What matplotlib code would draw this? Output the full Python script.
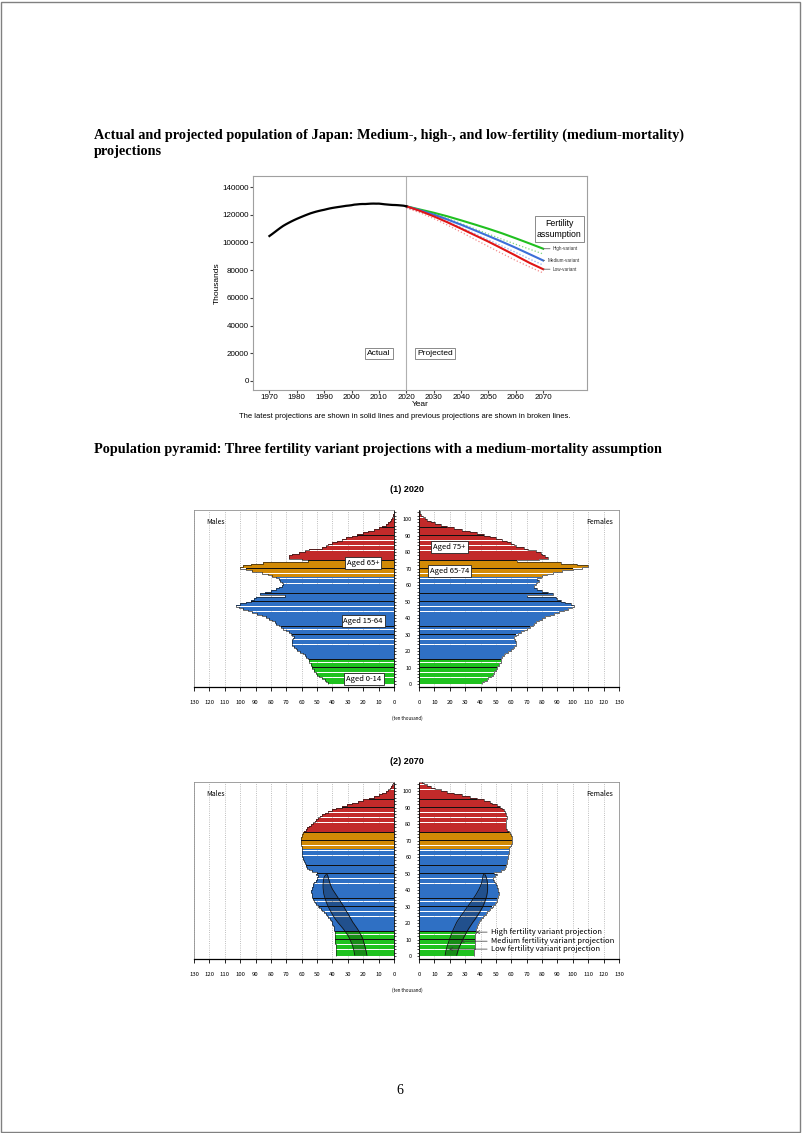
import numpy as np
import matplotlib
matplotlib.use("Agg")
import matplotlib.pyplot as plt
from matplotlib.patches import Rectangle

W, H = 802, 1133

# ---- line chart data (thousands) ----
actual_years = list(range(1970, 2021))
actual_pop = [104665, 106100, 107595, 109104, 110573, 111940, 113094, 114165, 115190, 116155,
              117060, 117902, 118728, 119536, 120305, 121049, 121660, 122239, 122745, 123205,
              123611, 124101, 124567, 124938, 125265, 125570, 125859, 126157, 126472, 126667,
              126926, 127316, 127486, 127694, 127787, 127768, 127901, 128033, 128084, 128032,
              128057, 127834, 127593, 127414, 127237, 127095, 127042, 126919, 126749, 126555,
              126146]
proj_years = [2020, 2025, 2030, 2035, 2040, 2045, 2050, 2055, 2060, 2065, 2070]
high_var = [126146, 123800, 121500, 118900, 116000, 113000, 109900, 106600, 103000, 99300, 95500]
medium_var = [126146, 123262, 120116, 116639, 112837, 108801, 104686, 100508, 96148, 91587, 86996]
low_var = [126146, 122800, 118900, 114600, 110000, 105300, 100600, 95600, 90500, 85300, 80700]
prev_high = [125900, 123400, 120600, 117300, 113700, 109900, 106100, 102300, 98700, 95200, 91700]
prev_medium = [125300, 122500, 119100, 115200, 110900, 106400, 101900, 97400, 92800, 88100, 83700]
prev_low = [124900, 121500, 117300, 112600, 107500, 102300, 97100, 92000, 87000, 82400, 78000]

# ---- pyramid data (ten thousand), ages 0..105 ----
ages = np.arange(106)
male_2020 = ([43, 44, 45, 47, 49, 50, 51, 52, 52, 53, 53, 54, 54, 55, 55.5] +
             [56, 57, 58, 59, 61, 63, 64, 65, 66, 66] +
             [66, 66, 65.5, 65, 66, 67, 68.5, 70, 72, 73.5] +
             [75, 76.5, 77.5, 79, 81, 83, 86, 89, 92, 95] +
             [98, 101, 103, 100, 96, 93, 91, 89.5, 71, 87] +
             [84, 80, 77, 75, 73, 72, 73, 74, 75, 77] +
             [79, 82, 86, 92, 96, 100, 98, 93, 85, 56] +
             [60, 68, 68, 66, 62, 58, 55, 47, 44, 43, 40, 37, 34, 31, 27, 24, 20, 17, 13, 10,
              7.5, 5.5, 3.8, 2.6, 1.7, 1.0, 0.6, 0.35, 0.2, 0.1, 0.05])
female_2020 = ([41, 42, 44, 45, 47, 48, 49, 49, 50, 51, 51, 52, 52, 53, 53] +
               [53, 54, 55, 56, 58, 60, 61, 62, 63, 63] +
               [63, 62.5, 62, 62, 63, 64.5, 66.5, 68, 70, 72] +
               [74, 75, 76, 78, 80, 82, 85, 88, 91, 94] +
               [97, 99.5, 101, 99, 95, 92, 90, 89, 70, 87] +
               [84, 80, 77, 75, 75, 76, 77, 78, 77, 79] +
               [80, 83, 87, 93, 100, 106, 110, 103, 92, 64] +
               [78, 84, 82, 80, 79, 76, 71, 68, 63, 62, 60, 57, 54, 50, 46, 42, 38, 33, 28, 23,
                18, 14, 10.5, 7.5, 5.2, 3.6, 2.4, 1.5, 0.9, 0.5, 0.3])
male_2070 = ([37.5, 37.6, 37.7, 37.8, 37.9, 38.0, 38.0, 38.1, 38.1, 38.2, 38.2, 38.3, 38.4, 38.5, 38.6] +
             [38.8, 39.0, 39.3, 39.6, 40.0, 40.5, 41.1, 41.8, 42.6, 43.5] +
             [44.5, 45.5, 46.5, 47.5, 48.5, 49.5, 50.4, 51.2, 51.9, 52.5] +
             [53.0, 53.4, 53.6, 53.7, 53.7, 53.6, 53.3, 52.9, 52.4, 51.8] +
             [51.0, 50.3, 49.8, 49.5, 51.0, 50.0, 53.5, 55.5, 56.5, 57.0] +
             [57.5, 58.0, 58.5, 59.0, 59.3, 59.5, 59.7, 59.8, 59.8, 59.7] +
             [59.8, 60.0, 60.2, 60.4, 60.5, 60.5, 60.3, 60.0, 59.6, 59.0] +
             [58.2, 57.3, 56.3, 55.2, 54.0, 52.8, 51.6, 50.4, 49.2, 48.0, 46.6, 45.0, 43.0, 40.5,
              37.5, 34.0, 30.5, 27.0, 23.5, 20.0, 16.5, 13.0, 10.0, 7.5, 5.5, 4.0, 2.8, 1.8, 1.1,
              0.6, 0.3])
female_2070 = ([35.7, 35.8, 35.9, 36.0, 36.1, 36.2, 36.2, 36.3, 36.3, 36.4, 36.4, 36.5, 36.6, 36.7, 36.8] +
               [37.0, 37.3, 37.6, 38.0, 38.5, 39.0, 39.7, 40.5, 41.4, 42.4] +
               [43.4, 44.4, 45.4, 46.4, 47.4, 48.3, 49.1, 49.8, 50.4, 50.9] +
               [51.3, 51.6, 51.7, 51.7, 51.6, 51.4, 51.0, 50.5, 49.9, 49.3] +
               [48.7, 48.3, 48.1, 49.5, 50.5, 49.0, 53.5, 55.0, 55.8, 56.3] +
               [56.7, 57.0, 57.3, 57.5, 57.7, 57.9, 58.1, 58.3, 58.4, 58.5] +
               [58.8, 59.3, 59.8, 60.2, 60.5, 60.6, 60.5, 60.2, 59.7, 59.0] +
               [58.2, 57.4, 56.8, 56.4, 56.3, 56.4, 56.6, 56.8, 57.0, 57.0, 56.8, 56.4, 55.8, 55.0,
                54.0, 52.5, 50.5, 47.5, 46.0, 42.0, 37.5, 33.0, 28.0, 23.0, 18.0, 14.0, 10.5, 8.0,
                5.5, 3.5, 1.8])
# medium / low fertility outlines for ages 0..49 in 2070
band_ages = np.arange(50)
male_2070_med = [25.5, 25.7, 25.9, 26.1, 26.4, 26.7, 27.0, 27.4, 27.9, 28.4,
                 28.8, 29.4, 30.0, 30.7, 31.4, 32.2, 33.0, 33.9, 34.8, 35.7,
                 36.6, 37.4, 38.2, 38.9, 39.6, 40.2, 40.8, 41.4, 42.0, 42.5,
                 43.0, 43.5, 43.9, 44.3, 44.7, 45.0, 45.3, 45.6, 45.8, 45.9,
                 46.0, 46.1, 46.1, 46.1, 46.0, 45.9, 45.7, 45.5, 45.0, 44.0]
male_2070_low = [17.6, 17.8, 18.0, 18.3, 18.5, 18.8, 19.1, 19.4, 19.7, 20.0,
                 20.3, 20.8, 21.3, 21.9, 22.5, 23.1, 23.8, 24.5, 25.3, 26.0,
                 26.8, 27.4, 28.0, 28.6, 29.2, 29.8, 30.5, 31.2, 31.8, 32.4,
                 33.0, 33.7, 34.4, 35.1, 35.8, 36.5, 37.2, 37.9, 38.6, 39.3,
                 40.0, 40.5, 41.0, 41.4, 41.8, 42.1, 42.4, 42.7, 43.0, 43.5]
female_2070_med = [24.5, 24.8, 25.1, 25.4, 25.8, 26.2, 26.7, 27.2, 27.7, 28.2,
                   28.7, 29.2, 29.8, 30.4, 31.0, 31.6, 32.2, 32.9, 33.6, 34.3,
                   35.0, 35.8, 36.6, 37.3, 38.0, 38.7, 39.4, 40.0, 40.6, 41.2,
                   41.7, 42.2, 42.6, 43.0, 43.4, 43.7, 44.0, 44.2, 44.4, 44.5,
                   44.6, 44.6, 44.6, 44.5, 44.4, 44.3, 44.1, 43.8, 43.4, 42.8]
female_2070_low = [17.0, 17.2, 17.4, 17.6, 17.9, 18.2, 18.5, 18.9, 19.3, 19.6,
                   20.0, 20.4, 20.8, 21.2, 21.6, 22.0, 22.5, 23.0, 23.5, 24.0,
                   24.5, 25.2, 25.9, 26.6, 27.4, 28.2, 29.0, 29.7, 30.5, 31.2,
                   32.0, 32.8, 33.6, 34.4, 35.1, 35.8, 36.5, 37.2, 37.8, 38.4,
                   39.0, 39.5, 40.0, 40.4, 40.7, 41.0, 41.2, 41.4, 41.6, 42.0]

serif = "Liberation Serif"
sans = "Liberation Sans"
jp = ["Noto Sans CJK JP", "DejaVu Sans"]


def rect(x0, y0, x1, y1):
    return [x0 / W, 1 - y1 / H, (x1 - x0) / W, (y1 - y0) / H]


fig = plt.figure(figsize=(W / 100, H / 100), dpi=100)
fig.patches.append(Rectangle((0.001, 0.001), 0.997, 0.997, transform=fig.transFigure,
                             fill=False, ec="#808080", lw=1))

fig.text(94 / W, 1 - 135 / H, "Actual and projected population of Japan: Medium-, high-, and low-fertility (medium-mortality)",
         family=serif, weight="bold", fontsize=10.3, va="center")
fig.text(94 / W, 1 - 152 / H, "projections", family=serif, weight="bold", fontsize=10.3, va="center")
fig.text(94 / W, 1 - 449 / H, "Population pyramid: Three fertility variant projections with a medium-mortality assumption",
         family=serif, weight="bold", fontsize=10.3, va="center")
fig.text(400 / W, 1 - 1091 / H, "6", family=serif, fontsize=10, ha="center", va="center")

# ---- line chart ----
ax = fig.add_axes(rect(253, 176, 587, 390))
ax.axvline(2020, color="#b0b0b0", lw=0.8)
ax.plot(proj_years, prev_high, ":", color="#7ed67e", lw=0.9)
ax.plot(proj_years, prev_medium, ":", color="#8aa8ee", lw=0.9)
ax.plot(proj_years, prev_low, ":", color="#f28a8a", lw=0.9)
ax.plot(proj_years, high_var, color="#20c020", lw=1.5)
ax.plot(proj_years, medium_var, color="#3c6fd8", lw=1.5)
ax.plot(proj_years, low_var, color="#e01515", lw=1.5)
ax.plot(actual_years, actual_pop, color="black", lw=1.6)
ax.set_xlim(1964, 2086)
ax.set_ylim(-6500, 148000)
ax.set_xticks(range(1970, 2071, 10))
ax.set_yticks(range(0, 140001, 20000))
ax.tick_params(labelsize=5.8, length=2, pad=1, color="#444")
for lab in ax.get_xticklabels() + ax.get_yticklabels():
    lab.set_family(sans)
for s in ax.spines.values():
    s.set_color("#a0a0a0")
    s.set_linewidth(0.8)
ax.set_xlabel("Year", family=sans, fontsize=6, labelpad=0)
ax.set_ylabel("Thousands", family=sans, fontsize=6, labelpad=1)
box = dict(boxstyle="square,pad=0.25", fc="white", ec="#777", lw=0.6)
ax.text(2010, 20000, "Actual", ha="center", va="center", family=sans, fontsize=6, bbox=box)
ax.text(2030.5, 20000, "Projected", ha="center", va="center", family=sans, fontsize=6, bbox=box)
ax.text(2075.8, 109700, "Fertility\nassumption", ha="center", va="center", family=sans,
        fontsize=6.3, linespacing=1.4, bbox=box)
for name, vals, tx in [("High-variant", high_var, 2073.5), ("Medium-variant", medium_var, 2071.5),
                       ("Low-variant", low_var, 2073.5)]:
    ax.annotate(name, xy=(2070, vals[-1]), xytext=(tx, vals[-1]), va="center", family=sans,
                fontsize=3.3, color="#333",
                arrowprops=dict(arrowstyle="-", color="#666", lw=0.6, shrinkA=0, shrinkB=0))
fig.text(405 / W, 1 - 416 / H,
         "The latest projections are shown in solid lines and previous projections are shown in broken lines.",
         family=sans, fontsize=5.5, ha="center", va="center")

# ---- pyramids ----
group_colors = np.where(ages < 15, "#1fc21f",
                        np.where(ages < 65, "#2f70c4",
                                 np.where(ages < 75, "#d28a06", "#c22a2a")))


def half(axh, vals, male):
    vals = np.asarray(vals, float)
    axh.barh(ages + 0.5, vals, height=0.88, color=group_colors, lw=0, zorder=2)
    axh.stairs(vals, np.arange(107), orientation="horizontal", baseline=None,
               color="#1a1a1a", lw=0.45, zorder=3)
    sep = np.arange(5, 106, 5)
    axh.barh(sep, np.minimum(vals[sep - 1], vals[sep]), height=0.3, color="#111", lw=0, zorder=3)
    axh.set_xlim((130, 0) if male else (0, 130))
    axh.set_ylim(-1.8, 105.5)
    axh.set_xticks(range(0, 131, 10))
    axh.tick_params(axis="x", labelsize=4.3, length=3, width=0.6, pad=6, color="black")
    axh.grid(axis="x", ls=":", color="#a8a8a8", lw=0.6)
    axh.set_axisbelow(True)
    axh.spines["bottom"].set_linewidth(0.9)
    for side in ("top", "left", "right"):
        axh.spines[side].set_color("#909090")
        axh.spines[side].set_linewidth(0.6)
    inner = "right" if male else "left"
    axh.spines[inner].set_color("black")
    axh.set_yticks(range(0, 101, 10))
    axh.set_yticks(range(0, 106, 2), minor=True)
    if male:
        axh.yaxis.tick_right()
        axh.tick_params(axis="y", which="both", length=1.5, width=0.5, labelright=False)
    else:
        axh.tick_params(axis="y", which="both", length=1.5, width=0.5, labelsize=4, pad=4)
        for lab in axh.get_yticklabels():
            lab.set_family(jp)
    for lab in axh.get_xticklabels():
        lab.set_family(jp)


def pyramid(top, male_vals, female_vals, title):
    bottom = top + 177
    axm = fig.add_axes(rect(194, top, 394, bottom))
    axf = fig.add_axes(rect(419, top, 619, bottom))
    half(axm, male_vals, True)
    half(axf, female_vals, False)
    axm.text(0.06, 0.93, "Males", transform=axm.transAxes, family=jp, fontsize=5, va="center")
    axf.text(0.97, 0.93, "Females", transform=axf.transAxes, family=jp, fontsize=5,
             va="center", ha="right")
    fig.text(407 / W, 1 - (top - 21) / H, title, family=sans, weight="bold", fontsize=6.5,
             ha="center", va="center")
    fig.text(407 / W, 1 - (bottom + 31) / H, "(ten thousand)", family=jp, fontsize=3.2,
             ha="center", va="center")
    return axm, axf


lbox = dict(boxstyle="square,pad=0.25", fc="white", ec="#222", lw=0.6)
axm1, axf1 = pyramid(510, male_2020, female_2020, "(1) 2020")
for axh, x, y, t in [(axm1, 20, 73.3, "Aged 65+"), (axm1, 20, 38, "Aged 15-64"),
                     (axm1, 19.5, 3, "Aged 0-14"), (axf1, 19.8, 83, "Aged 75+"),
                     (axf1, 20, 68.5, "Aged 65-74")]:
    axh.text(x, y, t, ha="center", va="center", family=jp, fontsize=5.5, bbox=lbox, zorder=5)

axm2, axf2 = pyramid(782, male_2070, female_2070, "(2) 2070")
for axh, med, low in [(axm2, male_2070_med, male_2070_low), (axf2, female_2070_med, female_2070_low)]:
    axh.fill_betweenx(band_ages + 0.5, low, med, color="black", alpha=0.28, lw=0, zorder=4)
    axh.plot(med, band_ages + 0.5, color="#111", lw=0.6, zorder=4)
    axh.plot(low, band_ages + 0.5, color="#111", lw=0.6, zorder=4)
for t, xy, ty in [("High fertility variant projection", (37, 14.5), 14.5),
                  ("Medium fertility variant projection", (27, 9.0), 9.0),
                  ("Low fertility variant projection", (19.5, 4.2), 4.2)]:
    axf2.annotate(t, xy=xy, xytext=(47, ty), va="center", family=jp, fontsize=5.5,
                  annotation_clip=False, zorder=6,
                  arrowprops=dict(arrowstyle="->", color="#333", lw=0.5, shrinkA=1, shrinkB=0))

fig.savefig("out.png", dpi=100)
